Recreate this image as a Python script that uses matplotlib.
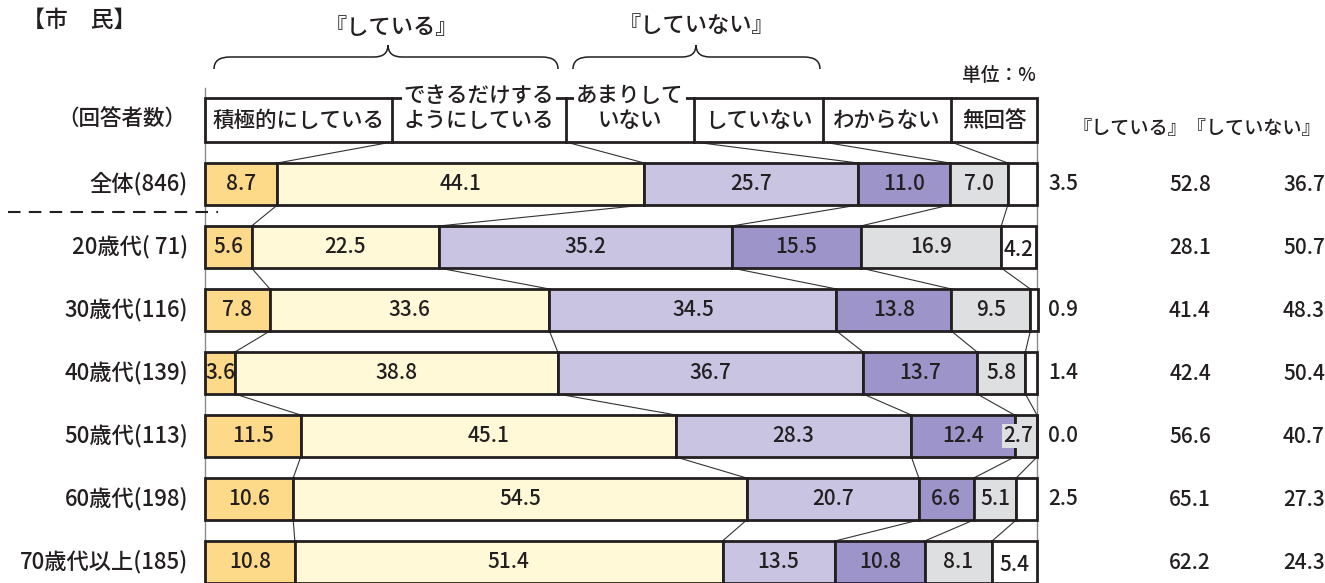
import matplotlib
matplotlib.use("Agg")
import matplotlib.pyplot as plt
from matplotlib.patches import Rectangle, PathPatch
from matplotlib.path import Path
import numpy as np

plt.rcParams["font.family"] = ["Noto Sans CJK JP", "DejaVu Sans"]
plt.rcParams["font.weight"] = "medium"

# ---- data -------------------------------------------------------------
groups = ["全体(846)", "20歳代( 71)", "30歳代(116)", "40歳代(139)",
          "50歳代(113)", "60歳代(198)", "70歳代以上(185)"]
categories = ["積極的にしている", "できるだけする\nようにしている", "あまりして\nいない",
              "していない", "わからない", "無回答"]
active = [8.7, 5.6, 7.8, 3.6, 11.5, 10.6, 10.8]
try_to = [44.1, 22.5, 33.6, 38.8, 45.1, 54.5, 51.4]
not_much = [25.7, 35.2, 34.5, 36.7, 28.3, 20.7, 13.5]
not_doing = [11.0, 15.5, 13.8, 13.7, 12.4, 6.6, 10.8]
unknown = [7.0, 16.9, 9.5, 5.8, 2.7, 5.1, 8.1]
no_answer = [3.5, 4.2, 0.9, 1.4, 0.0, 2.5, 5.4]
doing_total = [52.8, 28.1, 41.4, 42.4, 56.6, 65.1, 62.2]
not_doing_total = [36.7, 50.7, 48.3, 50.4, 40.7, 27.3, 24.3]

series = [active, try_to, not_much, not_doing, unknown, no_answer]
colors = ["#FDD98A", "#FFF9D7", "#C8C4E1", "#9D94C9", "#DEDFE0", "#FFFFFF"]
EDGE = "#231F20"
INK = "#231F20"

# ---- canvas: one axes over the whole figure ---------------------------
W, H = 1325, 583
fig = plt.figure(figsize=(W / 100, H / 100), dpi=100)
ax = fig.add_axes([0, 0, 1, 1])
X0, X1 = 205, 1037
scale = (X1 - X0) / 100.0
ROW0, ROWSTEP = 184, 63
ax.set_xlim(-X0 / scale, (W - X0) / scale)
ax.set_ylim((H - ROW0) / ROWSTEP, -ROW0 / ROWSTEP)
ax.axis("off")


def fx(p):
    return (p - X0) / scale


def fy(p):
    return (p - ROW0) / ROWSTEP


BAR_H = 42 / ROWSTEP
NUM_FS = 15
rows = np.arange(len(groups))

# ---- stacked bars -----------------------------------------------------
left = np.zeros(len(groups))
bounds = [left.copy()]
for vals, c in zip(series, colors):
    ax.barh(rows, vals, left=left, height=BAR_H, color=c, edgecolor=EDGE,
            linewidth=2.0, zorder=3)
    left = left + np.array(vals)
    bounds.append(left.copy())

# value labels
for k, vals in enumerate(series):
    for i, v in enumerate(vals):
        centre = bounds[k][i] + v / 2
        if k == len(series) - 1:
            if v >= 4:
                ax.text(centre, i + 0.04, f"{v:.1f}", ha="center", va="center",
                        fontsize=NUM_FS, color=INK, zorder=5)
            else:
                ax.text(fx(1063), i, f"{v:.1f}", ha="center", va="center",
                        fontsize=NUM_FS, color=INK, zorder=5)
        elif k == 4 and v < 4:
            ax.text(centre - 0.9, i, f"{v:.1f}", ha="center", va="center",
                    fontsize=NUM_FS, color=INK, zorder=5,
                    bbox=dict(boxstyle="square,pad=0.05", fc=colors[4], ec="none"))
        else:
            ax.text(centre, i, f"{v:.1f}", ha="center", va="center",
                    fontsize=NUM_FS, color=INK, zorder=5)

# connector lines between consecutive bars
for i in range(len(groups) - 1):
    for k in range(1, len(series)):
        ax.plot([bounds[k][i], bounds[k][i + 1]],
                [i + BAR_H / 2, i + 1 - BAR_H / 2],
                color="#333333", lw=0.8, zorder=2)

# ---- header boxes -----------------------------------------------------
header_edges = [205, 392, 566, 694, 823, 951, 1037]
HT, HB = fy(98), fy(142)
ax.add_patch(Rectangle((fx(header_edges[0]), HT),
                       fx(header_edges[-1]) - fx(header_edges[0]), HB - HT,
                       fill=False, ec=EDGE, lw=2.0, zorder=3))
for e in header_edges[1:-1]:
    ax.plot([fx(e), fx(e)], [HT, HB], color=EDGE, lw=2.0, zorder=3)

HDR_FS = 15.5
for j, lab in enumerate(categories):
    cx = (fx(header_edges[j]) + fx(header_edges[j + 1])) / 2
    parts = lab.split("\n")
    if len(parts) == 1:
        ax.text(cx, fy(121), lab, ha="center", va="center", fontsize=HDR_FS,
                color=INK, zorder=5)
    else:
        ax.text(cx, fy(96), parts[0], ha="center", va="center", fontsize=HDR_FS,
                color=INK, zorder=5,
                bbox=dict(boxstyle="square,pad=0.1", fc="white", ec="none"))
        ax.text(cx, fy(121), parts[1], ha="center", va="center", fontsize=HDR_FS,
                color=INK, zorder=5)

# header to first bar connectors
for k in range(1, len(series)):
    ax.plot([fx(header_edges[k]), bounds[k][0]], [HB, 0 - BAR_H / 2],
            color="#333333", lw=0.8, zorder=2)

# thin guide lines at 0 % and 100 %
ax.plot([0, 0], [fy(88), fy(H)], color="#8A8A8A", lw=1.0, zorder=1)
ax.plot([100, 100], [HB, fy(H)], color="#8A8A8A", lw=1.0, zorder=1)

# ---- braces -----------------------------------------------------------


def brace(x0, x1, xm, y_end, y_h, y_peak, r=16, rm=14):
    pts = [
        (x0, y_end), (x0, y_h), (x0 + r, y_h),
        (xm - rm, y_h), (xm, y_h), (xm, y_peak),
        (xm, y_h), (xm + rm, y_h),
        (x1 - r, y_h), (x1, y_h), (x1, y_end),
    ]
    codes = [Path.MOVETO, Path.CURVE3, Path.CURVE3,
             Path.LINETO, Path.CURVE3, Path.CURVE3,
             Path.CURVE3, Path.CURVE3,
             Path.LINETO, Path.CURVE3, Path.CURVE3]
    verts = [(fx(px), fy(py)) for px, py in pts]
    ax.add_patch(PathPatch(Path(verts, codes), fill=False, ec=INK,
                           lw=1.1, zorder=3))


brace(214, 558, 388, 69, 57, 45)
brace(573, 820, 696, 69, 57, 45)
ax.text(fx(391), fy(28), "『している』", ha="center", va="center",
        fontsize=16, color=INK)
ax.text(fx(697), fy(25), "『していない』", ha="center", va="center",
        fontsize=16, color=INK)

# ---- titles and side labels -------------------------------------------
ax.text(fx(22), fy(20), "【市\u3000民】", ha="left", va="center",
        fontsize=16.5, color=INK)
ax.text(fx(186), fy(120), "（回答者数）", ha="right", va="center",
        fontsize=15.5, color=INK)
for i, g in enumerate(groups):
    ax.text(fx(188), i, g, ha="right", va="center", fontsize=16,
            color=INK)

ax.plot([fx(8), fx(218)], [fy(212), fy(212)], color=INK, lw=1.5,
        dashes=(6, 4), zorder=1)

ax.text(fx(1036), fy(76), "単位：%", ha="right", va="center", fontsize=13.5,
        color=INK)
ax.text(fx(1321), fy(128), "『している』『していない』", ha="right",
        va="center", fontsize=13.8, color=INK)
for i in rows:
    ax.text(fx(1190), i + 0.02, f"{doing_total[i]:.1f}", ha="center",
            va="center", fontsize=NUM_FS, color=INK)
    ax.text(fx(1304), i + 0.02, f"{not_doing_total[i]:.1f}", ha="center",
            va="center", fontsize=NUM_FS, color=INK)

fig.savefig("out.png", dpi=100)
